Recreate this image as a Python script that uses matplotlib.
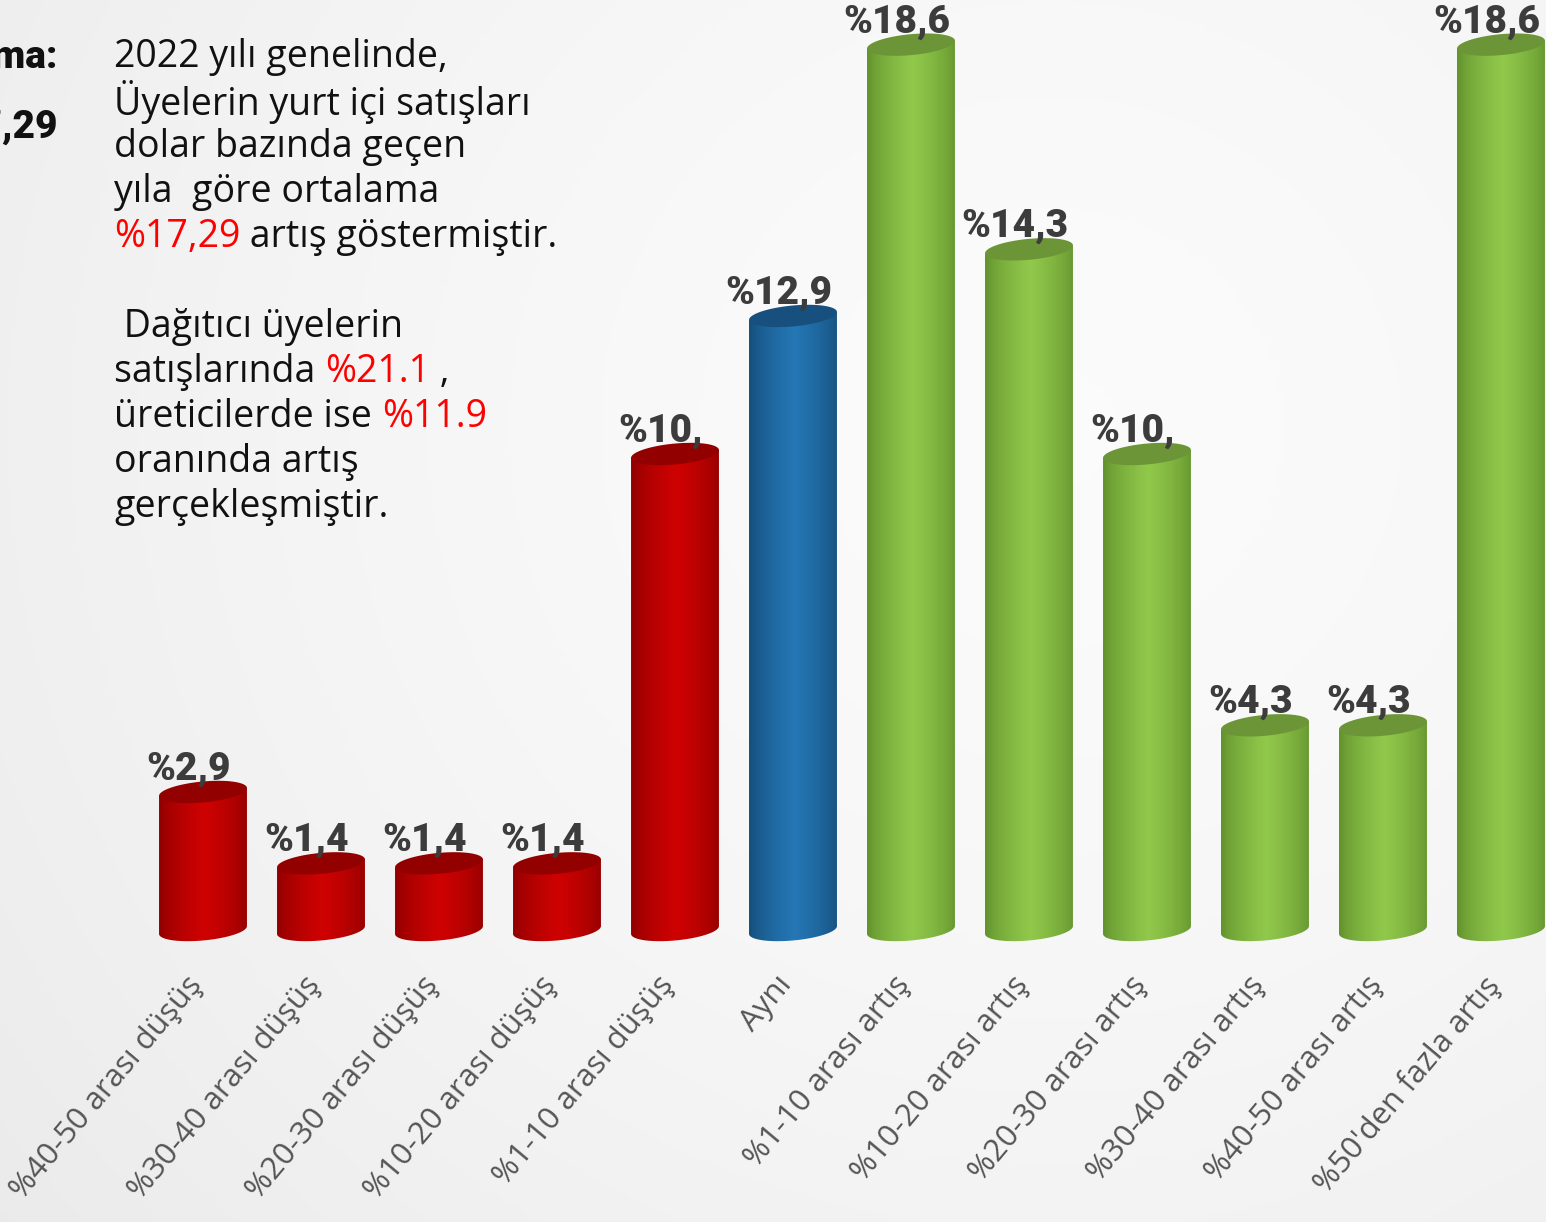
import numpy as np
import matplotlib
matplotlib.use("Agg")
import matplotlib.pyplot as plt
from matplotlib.patches import Polygon
from matplotlib.colors import to_rgb

# ---------------- data ----------------
categories = ["%40-50 arası düşüş", "%30-40 arası düşüş", "%20-30 arası düşüş",
              "%10-20 arası düşüş", "%1-10 arası düşüş", "Aynı",
              "%1-10 arası artış", "%10-20 arası artış", "%20-30 arası artış",
              "%30-40 arası artış", "%40-50 arası artış", "%50'den fazla artış"]
values = [2.9, 1.4, 1.4, 1.4, 10.0, 12.9, 18.6, 14.3, 10.0, 4.3, 4.3, 18.6]
value_labels = ["%2,9", "%1,4", "%1,4", "%1,4", "%10,", "%12,9",
                "%18,6", "%14,3", "%10,", "%4,3", "%4,3", "%18,6"]
groups = ["down"] * 5 + ["same"] + ["up"] * 6

palette = {
    "down": ("#cf0202", "#8a0000", "#930000"),
    "same": ("#2577b5", "#134a75", "#17507e"),
    "up":   ("#91c94b", "#5d8c2a", "#6b9537"),
}

W, H, DPI = 1546, 1222, 100
fig = plt.figure(figsize=(W / DPI, H / DPI), dpi=DPI)

# background gradient
bg = fig.add_axes([0, 0, 1, 1], zorder=0)
yy, xx = np.mgrid[0:1:300j, 0:1:380j]
d = np.sqrt(((xx - 0.68) * 1.2) ** 2 + (yy - 0.35) ** 2)
g = 0.985 - 0.06 * np.clip(d, 0, 1.2) ** 1.5
bg.imshow(np.dstack([g, g, g]), extent=[0, 1, 0, 1], aspect="auto", origin="upper")
bg.set_axis_off()

ax = fig.add_axes([0, 0, 1, 1], zorder=1)
ax.set_facecolor("none")
ax.set_axis_off()

bar_w = 0.745
ry = 0.22
tilt = 0.22


def cylinder(xc, h, cmid, cedge, ctop):
    a = bar_w / 2
    t = np.linspace(0, -np.pi, 80)
    bx = xc + a * np.cos(t)
    by = ry * np.sin(t) + tilt * (bx - xc)
    body_x = np.concatenate([[xc - a, xc + a], bx])
    body_y = np.concatenate([[h - tilt * a, h + tilt * a], by])
    poly = Polygon(np.column_stack([body_x, body_y]), closed=True,
                   facecolor="none", edgecolor="none")
    ax.add_patch(poly)
    n = 200
    s = np.linspace(0, 1, n)
    w = np.clip(1 - np.abs(s - 0.52) / 0.52, 0, 1) ** 0.6
    c1, c2 = np.array(to_rgb(cedge)), np.array(to_rgb(cmid))
    grad = c1[None, :] * (1 - w[:, None]) + c2[None, :] * w[:, None]
    im = ax.imshow(grad[None, :, :], extent=[xc - a, xc + a, -ry - tilt * a - 0.1, h + tilt * a + 0.1],
                   aspect="auto", zorder=2, interpolation="bilinear")
    im.set_clip_path(poly)
    tt = np.linspace(0, 2 * np.pi, 120)
    tx = xc + a * np.cos(tt)
    ty = h + ry * np.sin(tt) + tilt * (tx - xc)
    ax.add_patch(Polygon(np.column_stack([tx, ty]), closed=True,
                         facecolor=ctop, edgecolor="none", zorder=3))


label_font = ["Roboto", "DejaVu Sans"]
text_font = ["Open Sans", "DejaVu Sans"]

for i, (v, lab, grp) in enumerate(zip(values, value_labels, groups)):
    cmid, cedge, ctop = palette[grp]
    cylinder(i, v, cmid, cedge, ctop)
    ax.text(i - 0.12, v + 0.26, lab, ha="center", va="baseline",
            fontsize=28, fontweight="black", color="#3c3c3c",
            family=label_font, zorder=4)

for i, cat in enumerate(categories):
    ax.text(i - 0.15, -0.85, cat, rotation=50, rotation_mode="anchor",
            ha="right", va="top", fontsize=22.5, color="#555555",
            family=text_font, zorder=4)

# limits mapping: index i -> px 203 + 118 i ; value v -> px 930 - 47.6 v
ax.set_xlim(-203 / 118, (W - 203) / 118)
ax.set_ylim((930 - H) / 47.6, 930 / 47.6)

# left cut-off bold text (cut off in the reference as well)
fig.text(58 / W, 1 - 57 / H, "Ortalama:", ha="right", va="center",
         fontsize=28, fontweight="black", color="#111111", family=label_font)
fig.text(58 / W, 1 - 127 / H, "%17,29", ha="right", va="center",
         fontsize=28, fontweight="black", color="#111111", family=label_font)

# paragraph text
x0 = 114 / W
tsz = 27
lines1 = ["2022 yılı genelinde,", "Üyelerin yurt içi satışları",
          "dolar bazında geçen", "yıla  göre ortalama"]
for k, ln in enumerate(lines1):
    fig.text(x0, 1 - (57 + 45 * k) / H, ln, ha="left", va="center",
             fontsize=tsz, color="#111111", family=text_font)
t_red = fig.text(x0, 1 - (57 + 45 * 4) / H, "%17,29", ha="left", va="center",
                 fontsize=tsz, color="#ff0000", family=text_font)
fig.add_artist(plt.Annotation(" artış göstermiştir.", xy=(1, 0), xycoords=t_red,
                              va="bottom", ha="left", fontsize=tsz, color="#111111",
                              family=text_font))

y2 = 327
fig.text(x0, 1 - y2 / H, " Dağıtıcı üyelerin", ha="left", va="center",
         fontsize=tsz, color="#111111", family=text_font)
t_a = fig.text(x0, 1 - (y2 + 45) / H, "satışlarında ", ha="left", va="center",
               fontsize=tsz, color="#111111", family=text_font)
t_b = plt.Annotation("%21.1", xy=(1, 0), xycoords=t_a, va="bottom", ha="left",
                     fontsize=tsz, color="#ff0000", family=text_font)
fig.add_artist(t_b)
fig.add_artist(plt.Annotation(" ,", xy=(1, 0), xycoords=t_b, va="bottom", ha="left",
                              fontsize=tsz, color="#111111", family=text_font))
t_c = fig.text(x0, 1 - (y2 + 90) / H, "üreticilerde ise ", ha="left", va="center",
               fontsize=tsz, color="#111111", family=text_font)
fig.add_artist(plt.Annotation("%11.9", xy=(1, 0), xycoords=t_c, va="bottom", ha="left",
                              fontsize=tsz, color="#ff0000", family=text_font))
fig.text(x0, 1 - (y2 + 135) / H, "oranında artış", ha="left", va="center",
         fontsize=tsz, color="#111111", family=text_font)
fig.text(x0, 1 - (y2 + 180) / H, "gerçekleşmiştir.", ha="left", va="center",
         fontsize=tsz, color="#111111", family=text_font)

fig.savefig("out.png", dpi=DPI)
